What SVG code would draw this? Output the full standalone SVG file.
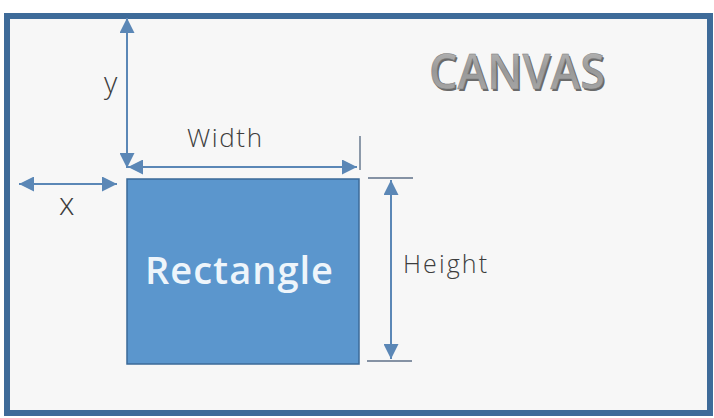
<svg xmlns="http://www.w3.org/2000/svg" width="714" height="418" viewBox="0 0 714 418">
  <style>
    .lbl { font-family: "Open Sans", "Liberation Sans", sans-serif; fill: #3d3d3d; font-weight: 300; }
    .dim { stroke: #5b87b6; stroke-width: 2; fill: none; marker-start: url(#ah); marker-end: url(#ah); }
    .tick { stroke: #5f7188; stroke-width: 1.4; fill: none; }
  </style>
  <defs>
    <marker id="ah" markerUnits="userSpaceOnUse" markerWidth="15" markerHeight="15" refX="15" refY="7.5" orient="auto-start-reverse">
      <path d="M0,0 L15,7.5 L0,15 z" fill="#5b87b6"/>
    </marker>
    <linearGradient id="cg" x1="0" y1="0" x2="0" y2="1">
      <stop offset="0" stop-color="#c2c2c2"/>
      <stop offset="0.5" stop-color="#999999"/>
      <stop offset="1" stop-color="#acacac"/>
    </linearGradient>
  </defs>
  <rect x="0" y="0" width="714" height="418" fill="#ffffff"/>
  <g id="canvas">
    <rect x="7" y="16" width="703" height="397" fill="#f7f7f7" stroke="#3e6b99" stroke-width="6"/>
    <text x="429" y="89" font-family="'Open Sans', 'Liberation Sans', sans-serif" font-weight="600" font-size="48" textLength="176" lengthAdjust="spacingAndGlyphs" fill="#6a6a6a" transform="translate(1.5,1.5)">CANVAS</text>
    <text x="429" y="89" font-family="'Open Sans', 'Liberation Sans', sans-serif" font-weight="600" font-size="48" textLength="176" lengthAdjust="spacingAndGlyphs" fill="url(#cg)" stroke="#7a7a7a" stroke-width="0.5">CANVAS</text>
  </g>
  <g id="rectangle">
    <rect x="127" y="179" width="232" height="185" fill="#5b96cd" stroke="#3b6a98" stroke-width="1.5"/>
    <text x="145" y="284" font-family="'Open Sans', 'Liberation Sans', sans-serif" font-weight="600" font-size="38" textLength="188" lengthAdjust="spacing" fill="#eef5fb">Rectangle</text>
  </g>
  <g id="connectors">
    <line class="dim" x1="127" y1="18" x2="127" y2="168"/>
    <line class="dim" x1="128" y1="167" x2="357" y2="167"/>
    <line class="dim" x1="19" y1="184" x2="117" y2="184"/>
    <line class="dim" x1="391" y1="180" x2="391" y2="359"/>
    <line class="tick" x1="360" y1="136" x2="360" y2="170"/>
    <line class="tick" x1="368" y1="178" x2="413" y2="178"/>
    <line class="tick" x1="367" y1="361" x2="412" y2="361"/>
  </g>
  <g id="labels">
    <text class="lbl" x="104" y="93" font-size="29">y</text>
    <text class="lbl" x="59" y="215" font-size="31">x</text>
    <text class="lbl" x="187" y="147" font-size="26" textLength="75" lengthAdjust="spacing">Width</text>
    <text class="lbl" x="403" y="273" font-size="25" textLength="84" lengthAdjust="spacing">Height</text>
  </g>
</svg>
